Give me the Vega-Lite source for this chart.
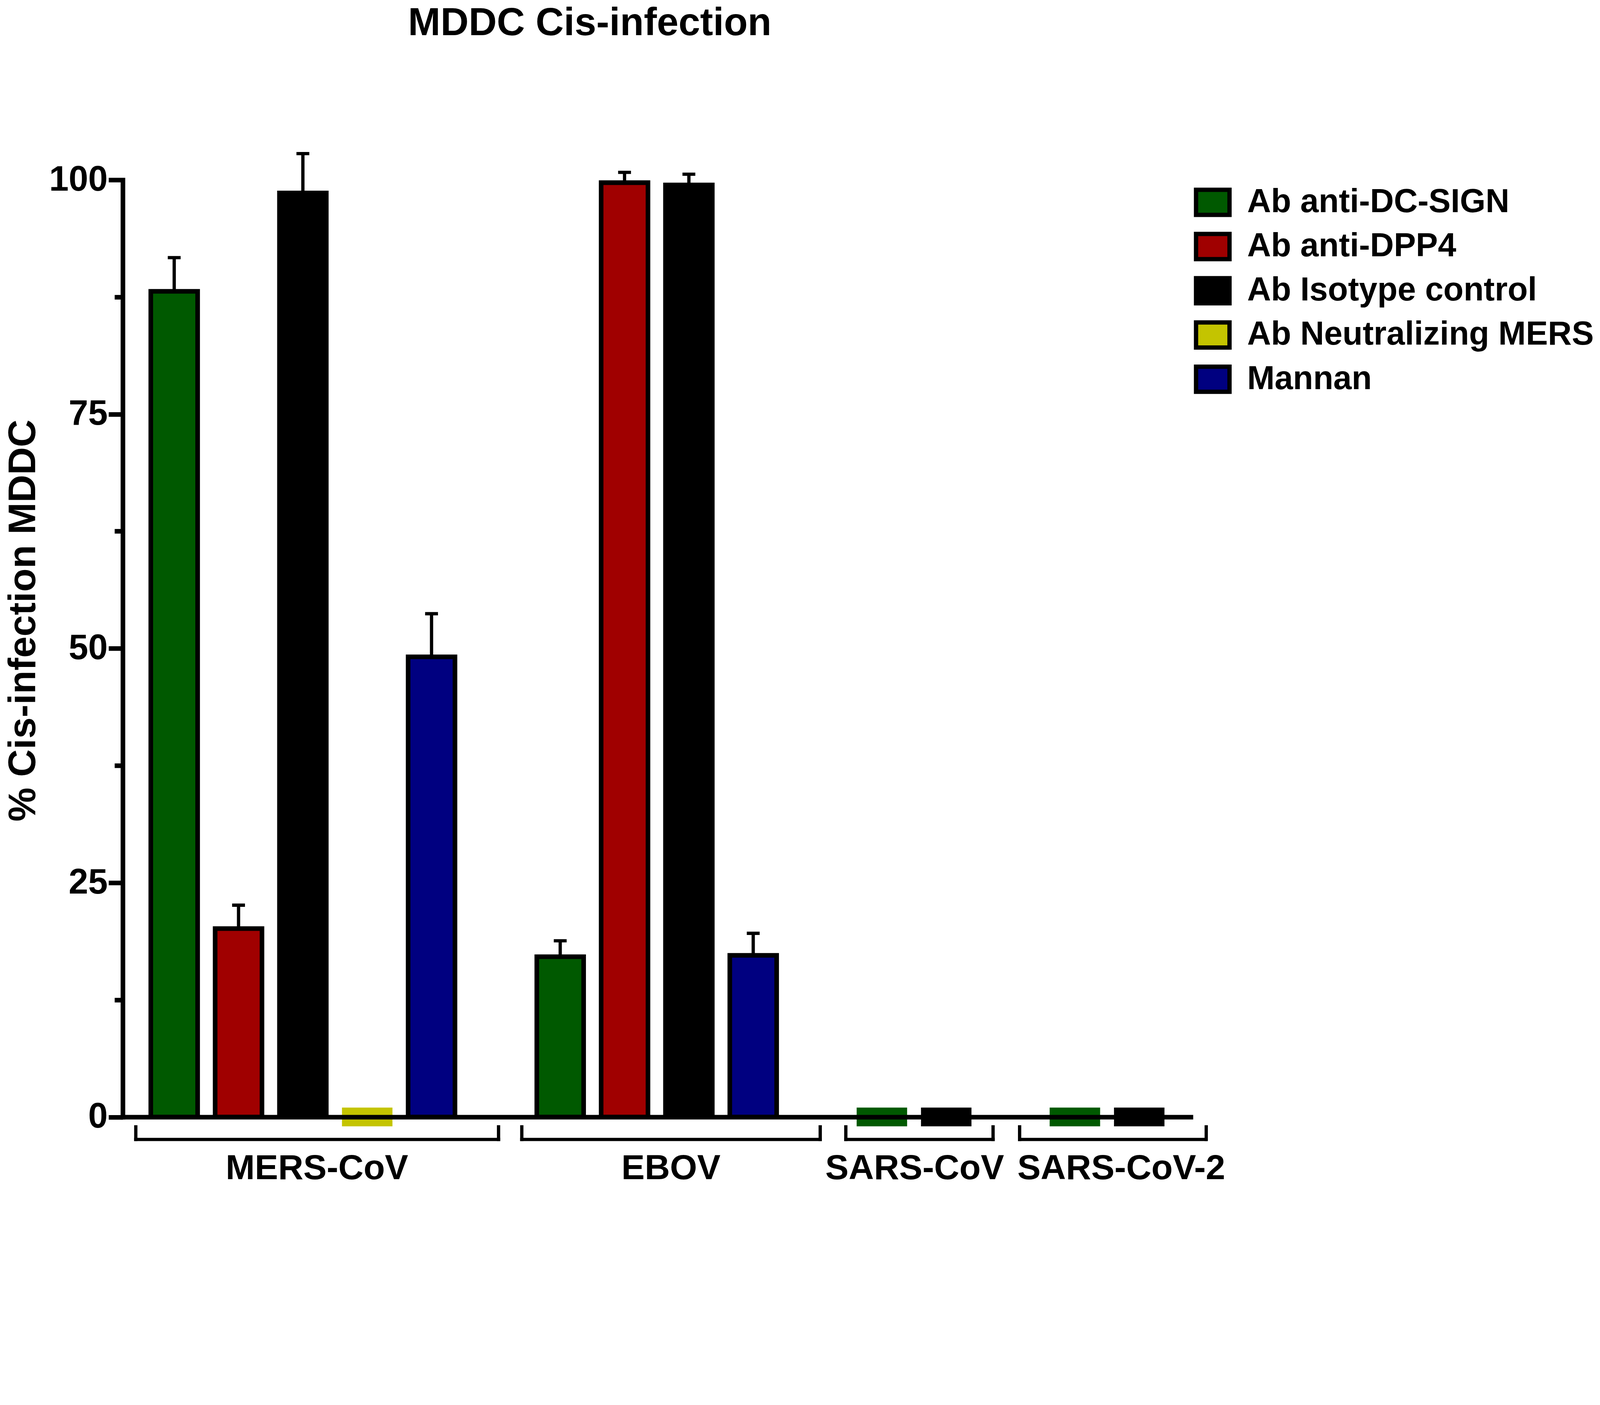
{
  "$schema": "https://vega.github.io/schema/vega-lite/v6.json",
  "description": "MDDC cis-infection, grouped bars with upper error bars",
  "width": 2734,
  "height": 2398.5,
  "autosize": {"type": "none"},
  "padding": {"left": 314.2, "top": 460.3, "right": 1047.8, "bottom": 178.2},
  "background": "white",
  "config": {
    "view": {"stroke": null},
    "font": "Liberation Sans",
    "axis": {"grid": false}
  },
  "title": {
    "text": "MDDC Cis-infection",
    "font": "Liberation Sans",
    "fontSize": 99.7,
    "fontWeight": "bold",
    "color": "black",
    "anchor": "middle",
    "frame": "group",
    "dx": -171.4,
    "offset": 278
  },
  "datasets": {
    "bars": [
      {"virus": "MERS-CoV", "treatment": "Ab anti-DC-SIGN", "bar": "MERS-CoV|Ab anti-DC-SIGN", "mean": 88.1, "upper": 91.7},
      {"virus": "MERS-CoV", "treatment": "Ab anti-DPP4", "bar": "MERS-CoV|Ab anti-DPP4", "mean": 20.1, "upper": 22.6},
      {"virus": "MERS-CoV", "treatment": "Ab Isotype control", "bar": "MERS-CoV|Ab Isotype control", "mean": 98.6, "upper": 102.8},
      {"virus": "MERS-CoV", "treatment": "Ab Neutralizing MERS", "bar": "MERS-CoV|Ab Neutralizing MERS", "mean": 0, "upper": 0},
      {"virus": "MERS-CoV", "treatment": "Mannan", "bar": "MERS-CoV|Mannan", "mean": 49.1, "upper": 53.7},
      {"virus": "EBOV", "treatment": "Ab anti-DC-SIGN", "bar": "EBOV|Ab anti-DC-SIGN", "mean": 17.1, "upper": 18.8},
      {"virus": "EBOV", "treatment": "Ab anti-DPP4", "bar": "EBOV|Ab anti-DPP4", "mean": 99.7, "upper": 100.8},
      {"virus": "EBOV", "treatment": "Ab Isotype control", "bar": "EBOV|Ab Isotype control", "mean": 99.45, "upper": 100.6},
      {"virus": "EBOV", "treatment": "Mannan", "bar": "EBOV|Mannan", "mean": 17.25, "upper": 19.6},
      {"virus": "SARS-CoV", "treatment": "Ab anti-DC-SIGN", "bar": "SARS-CoV|Ab anti-DC-SIGN", "mean": 0, "upper": 0},
      {"virus": "SARS-CoV", "treatment": "Ab Isotype control", "bar": "SARS-CoV|Ab Isotype control", "mean": 0, "upper": 0},
      {"virus": "SARS-CoV-2", "treatment": "Ab anti-DC-SIGN", "bar": "SARS-CoV-2|Ab anti-DC-SIGN", "mean": 0, "upper": 0},
      {"virus": "SARS-CoV-2", "treatment": "Ab Isotype control", "bar": "SARS-CoV-2|Ab Isotype control", "mean": 0, "upper": 0}
    ],
    "groups": [
      {"virus": "MERS-CoV", "first": "MERS-CoV|Ab anti-DC-SIGN", "last": "MERS-CoV|Mannan", "label_at": "MERS-CoV|Ab Isotype control"},
      {"virus": "EBOV", "first": "EBOV|Ab anti-DC-SIGN", "last": "EBOV|Mannan", "label_at": "EBOV|Ab anti-DPP4"},
      {"virus": "SARS-CoV", "first": "SARS-CoV|Ab anti-DC-SIGN", "last": "SARS-CoV|Ab Isotype control", "label_at": "SARS-CoV|Ab anti-DC-SIGN"},
      {"virus": "SARS-CoV-2", "first": "SARS-CoV-2|Ab anti-DC-SIGN", "last": "SARS-CoV-2|Ab Isotype control", "label_at": "SARS-CoV-2|Ab anti-DC-SIGN"}
    ]
  },
  "layer": [
    {
      "data": {"name": "bars"},
      "transform": [{"filter": "datum.mean > 0"}],
      "mark": {"type": "bar", "stroke": "black", "strokeWidth": 11.8},
      "encoding": {
        "x": {
          "field": "bar",
          "type": "nominal",
          "scale": {
            "type": "band",
            "domain": [
              "MERS-CoV|Ab anti-DC-SIGN", "MERS-CoV|Ab anti-DPP4", "MERS-CoV|Ab Isotype control", "MERS-CoV|Ab Neutralizing MERS", "MERS-CoV|Mannan",
              "gap1",
              "EBOV|Ab anti-DC-SIGN", "EBOV|Ab anti-DPP4", "EBOV|Ab Isotype control", "EBOV|Mannan",
              "gap2",
              "SARS-CoV|Ab anti-DC-SIGN", "SARS-CoV|Ab Isotype control",
              "gap3",
              "SARS-CoV-2|Ab anti-DC-SIGN", "SARS-CoV-2|Ab Isotype control"
            ],
            "paddingInner": 0.2718,
            "paddingOuter": 0.436
          },
          "axis": {
            "title": null,
            "labels": false,
            "ticks": false,
            "domain": true,
            "domainColor": "black",
            "domainWidth": 11.8,
            "domainCap": "square",
            "zindex": 1
          }
        },
        "y": {
          "field": "mean",
          "type": "quantitative",
          "scale": {"domain": [0, 100], "nice": false},
          "axis": {
            "title": "% Cis-infection MDDC",
            "values": [0, 12.5, 25, 37.5, 50, 62.5, 75, 87.5, 100],
            "labelExpr": "datum.value % 25 === 0 ? datum.label : ''",
            "labelOverlap": false,
            "labelFlush": false,
            "tickSize": {"condition": {"test": "datum.value % 25 !== 0", "value": 21.1}, "value": 36.3},
            "tickWidth": 11.8,
            "tickColor": "black",
            "domainColor": "black",
            "domainWidth": 11.8,
            "domainCap": "square",
            "labelFont": "Liberation Sans",
            "labelFontSize": 90,
            "labelFontWeight": "bold",
            "labelColor": "black",
            "labelPadding": 2.5,
            "titleFont": "Liberation Sans",
            "titleFontSize": 98,
            "titleFontWeight": "bold",
            "titleColor": "black",
            "titleAngle": 270,
            "titleBaseline": "alphabetic",
            "titleAlign": "center",
            "titleX": -225,
            "titleY": 1127.5,
            "zindex": 1
          }
        },
        "color": {
          "field": "treatment",
          "type": "nominal",
          "scale": {
            "domain": ["Ab anti-DC-SIGN", "Ab anti-DPP4", "Ab Isotype control", "Ab Neutralizing MERS", "Mannan"],
            "range": ["#005900", "#A00000", "#000000", "#C4C400", "#000080"]
          },
          "legend": {
            "title": null,
            "orient": "none",
            "legendX": 2742,
            "legendY": 9,
            "padding": 0,
            "symbolType": "M-1,-0.75H1V0.75H-1Z",
            "symbolSize": 7346,
            "symbolStrokeColor": "black",
            "symbolStrokeWidth": 11,
            "symbolOpacity": 1,
            "labelFont": "Liberation Sans",
            "labelFontSize": 84.5,
            "labelFontWeight": "bold",
            "labelColor": "black",
            "labelOffset": 39.5,
            "labelLimit": 2000,
            "rowPadding": 4.2
          }
        }
      }
    },
    {
      "data": {"name": "bars"},
      "transform": [{"filter": "datum.mean === 0"}],
      "mark": {"type": "tick", "thickness": 48.1, "size": 129.2, "opacity": 1},
      "encoding": {
        "x": {"field": "bar", "type": "nominal"},
        "y": {"field": "mean", "type": "quantitative"},
        "fill": {
          "field": "treatment",
          "type": "nominal",
          "scale": {
            "domain": ["Ab anti-DC-SIGN", "Ab anti-DPP4", "Ab Isotype control", "Ab Neutralizing MERS", "Mannan"],
            "range": ["#005900", "#A00000", "#000000", "#C4C400", "#000080"]
          },
          "legend": null
        }
      }
    },
    {
      "data": {"name": "bars"},
      "transform": [{"filter": "datum.mean > 0"}],
      "mark": {"type": "rule", "color": "black", "strokeWidth": 8.4},
      "encoding": {
        "x": {"field": "bar", "type": "nominal"},
        "y": {"field": "mean", "type": "quantitative"},
        "y2": {"field": "upper"}
      }
    },
    {
      "data": {"name": "bars"},
      "transform": [{"filter": "datum.mean > 0"}],
      "mark": {"type": "tick", "color": "black", "thickness": 8.4, "size": 32.9, "opacity": 1},
      "encoding": {
        "x": {"field": "bar", "type": "nominal"},
        "y": {"field": "upper", "type": "quantitative"}
      }
    },
    {
      "data": {"name": "groups"},
      "transform": [{"filter": "datum.virus === 'MERS-CoV' || datum.virus === 'EBOV'"}],
      "mark": {"type": "rule", "color": "black", "strokeWidth": 8.4, "strokeCap": "square"},
      "encoding": {
        "x": {"field": "first", "type": "nominal", "bandPosition": -0.32},
        "x2": {"field": "last", "bandPosition": 1.93},
        "y": {"datum": -2.4}
      }
    },
    {
      "data": {"name": "groups"},
      "transform": [{"filter": "datum.virus === 'SARS-CoV'"}],
      "mark": {"type": "rule", "color": "black", "strokeWidth": 8.4, "strokeCap": "square"},
      "encoding": {
        "x": {"field": "first", "type": "nominal", "bandPosition": -0.27},
        "x2": {"field": "last", "bandPosition": 1.5},
        "y": {"datum": -2.4}
      }
    },
    {
      "data": {"name": "groups"},
      "transform": [{"filter": "datum.virus === 'SARS-CoV-2'"}],
      "mark": {"type": "rule", "color": "black", "strokeWidth": 8.4, "strokeCap": "square"},
      "encoding": {
        "x": {"field": "first", "type": "nominal", "bandPosition": -0.68},
        "x2": {"field": "last", "bandPosition": 1.92},
        "y": {"datum": -2.4}
      }
    },
    {
      "data": {"name": "groups"},
      "transform": [{"filter": "datum.virus === 'MERS-CoV' || datum.virus === 'EBOV'"}],
      "mark": {"type": "rule", "color": "black", "strokeWidth": 8.4},
      "encoding": {
        "x": {"field": "first", "type": "nominal", "bandPosition": -0.32},
        "y": {"datum": -0.88},
        "y2": {"datum": -2.57}
      }
    },
    {
      "data": {"name": "groups"},
      "transform": [{"filter": "datum.virus === 'SARS-CoV'"}],
      "mark": {"type": "rule", "color": "black", "strokeWidth": 8.4},
      "encoding": {
        "x": {"field": "first", "type": "nominal", "bandPosition": -0.27},
        "y": {"datum": -0.88},
        "y2": {"datum": -2.57}
      }
    },
    {
      "data": {"name": "groups"},
      "transform": [{"filter": "datum.virus === 'SARS-CoV-2'"}],
      "mark": {"type": "rule", "color": "black", "strokeWidth": 8.4},
      "encoding": {
        "x": {"field": "first", "type": "nominal", "bandPosition": -0.68},
        "y": {"datum": -0.88},
        "y2": {"datum": -2.57}
      }
    },
    {
      "data": {"name": "groups"},
      "transform": [{"filter": "datum.virus !== 'SARS-CoV'"}],
      "mark": {"type": "rule", "color": "black", "strokeWidth": 8.4},
      "encoding": {
        "x": {"field": "last", "type": "nominal", "bandPosition": 1.93},
        "y": {"datum": -0.88},
        "y2": {"datum": -2.57}
      }
    },
    {
      "data": {"name": "groups"},
      "transform": [{"filter": "datum.virus === 'SARS-CoV'"}],
      "mark": {"type": "rule", "color": "black", "strokeWidth": 8.4},
      "encoding": {
        "x": {"field": "last", "type": "nominal", "bandPosition": 1.5},
        "y": {"datum": -0.88},
        "y2": {"datum": -2.57}
      }
    },
    {
      "data": {"name": "groups"},
      "transform": [{"filter": "datum.virus === 'MERS-CoV'"}],
      "mark": {"type": "text", "font": "Liberation Sans", "fontSize": 89.5, "fontWeight": "bold", "color": "black", "align": "center", "baseline": "alphabetic"},
      "encoding": {
        "x": {"field": "label_at", "type": "nominal", "bandPosition": 0.8},
        "y": {"datum": -6.65},
        "text": {"field": "virus"}
      }
    },
    {
      "data": {"name": "groups"},
      "transform": [{"filter": "datum.virus === 'EBOV' || datum.virus === 'SARS-CoV-2'"}],
      "mark": {"type": "text", "font": "Liberation Sans", "fontSize": 89.5, "fontWeight": "bold", "color": "black", "align": "center", "baseline": "alphabetic"},
      "encoding": {
        "x": {"field": "label_at", "type": "nominal", "bandPosition": 1.49},
        "y": {"datum": -6.65},
        "text": {"field": "virus"}
      }
    },
    {
      "data": {"name": "groups"},
      "transform": [{"filter": "datum.virus === 'SARS-CoV'"}],
      "mark": {"type": "text", "font": "Liberation Sans", "fontSize": 89.5, "fontWeight": "bold", "color": "black", "align": "center", "baseline": "alphabetic"},
      "encoding": {
        "x": {"field": "label_at", "type": "nominal", "bandPosition": 1.2},
        "y": {"datum": -6.65},
        "text": {"field": "virus"}
      }
    }
  ]
}
